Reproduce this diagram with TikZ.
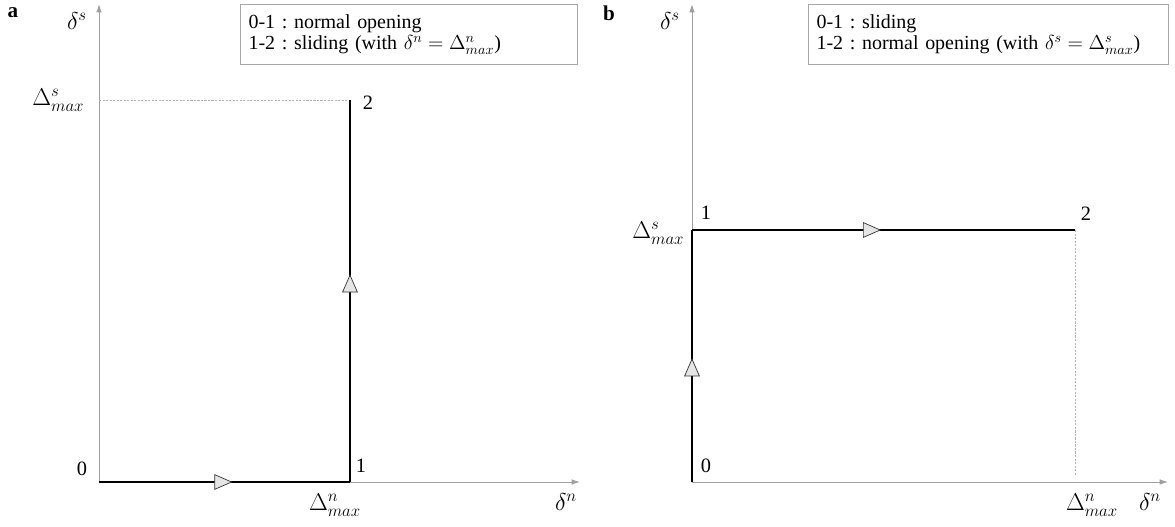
\documentclass[tikz,border=0pt]{standalone}
\usepackage{amsmath,amssymb}
\usepackage{fontspec}
\setmainfont{Liberation Serif}
\usepackage{tikz}
\usetikzlibrary{shapes.geometric,arrows.meta,positioning,calc}
\usepackage{xcolor}
\frenchspacing

\begin{document}
\begin{tikzpicture}[
    x=0.025cm, y=-0.025cm,
    axis/.style={draw=gray!75, line width=0.7pt, -{Latex[length=6pt,width=4pt]}},
    loadpath/.style={draw=black, line width=2pt},
    guide/.style={draw=gray!60, line width=0.5pt, dash pattern=on 1.5pt off 1pt},
    flowtip/.style={isosceles triangle, isosceles triangle apex angle=60, isosceles triangle stretches,
        draw=black!80, fill=gray!20, line width=0.5pt, inner sep=0pt, minimum width=10.5pt, minimum height=12pt, sloped},
    lbl/.style={font=\fontsize{16.5}{19}\selectfont, inner sep=1pt},
    num/.style={font=\fontsize{14.5}{17}\selectfont, inner sep=1pt},
    legend/.style={draw=gray!70, line width=0.8pt, align=left, anchor=north west, inner xsep=0.2cm,
        minimum height=1.5cm, font=\fontsize{14.2}{15.6}\selectfont}
]
    \useasboundingbox (0,0) rectangle (1175,526);

    % Panel a
    \node[font=\fontsize{15}{18}\selectfont\bfseries] (taga) at (13,13) {a};
    \coordinate (a0) at (99,482);
    \coordinate (a1) at (350,482);
    \coordinate (a2) at (350,100);
    \coordinate (axn) at (580,482);
    \coordinate (axs) at (99,4);
    \coordinate (asmax) at (99,100);

    \draw[axis] (a0) -- (axn);
    \draw[axis] (a0) -- (axs);
    \draw[guide] (asmax) -- (a2);
    \draw[loadpath] (a0) -- node[flowtip, pos=0.48] (ta1) {} (a1);
    \draw[loadpath] (a1) -- node[flowtip, pos=0.51] (ta2) {} (a2);

    \node[lbl, anchor=east] (lasmax) at (86,100) {$\Delta^s_{max}$};
    \node[lbl] (lads) at (77,21) {$\delta^s$};
    \node[lbl] (lanmax) at (335,505) {$\Delta^n_{max}$};
    \node[lbl] (ladn) at (566,502) {$\delta^n$};
    \node[num] (na0) at (82,469) {0};
    \node[num] (na1) at (361,466) {1};
    \node[num] (na2) at (368,103) {2};

    \node[legend, text width=8.025cm] (lega) at (240,4) {0-1 : normal opening\\1-2 : sliding (with $\delta^n = \Delta^n_{max}$)};

    % Panel b
    \node[font=\fontsize{15}{18}\selectfont\bfseries] (tagb) at (609,13) {b};
    \coordinate (b0) at (692,482);
    \coordinate (b1) at (692,230);
    \coordinate (b2) at (1075,230);
    \coordinate (bxn) at (1168,482);
    \coordinate (bxs) at (692,4);
    \coordinate (bnmax) at (1075,475);

    \draw[axis] (b0) -- (bxn);
    \draw[axis] (b0) -- (bxs);
    \draw[guide] (b2) -- (bnmax);
    \draw[loadpath] (b0) -- node[flowtip, pos=0.44] (tb1) {} (b1);
    \draw[loadpath] (b1) -- node[flowtip, pos=0.46] (tb2) {} (b2);

    \node[lbl, anchor=east] (lbsmax) at (686,233) {$\Delta^s_{max}$};
    \node[lbl] (lbds) at (670,21) {$\delta^s$};
    \node[lbl] (lbnmax) at (1092,505) {$\Delta^n_{max}$};
    \node[lbl] (lbdn) at (1150,502) {$\delta^n$};
    \node[num] (nb0) at (706,466) {0};
    \node[num] (nb1) at (706,213) {1};
    \node[num] (nb2) at (1086,214) {2};

    \node[legend, text width=8.6cm] (legb) at (808,4) {0-1 : sliding\\1-2 : normal opening (with $\delta^s = \Delta^s_{max}$)};
\end{tikzpicture}
\end{document}
